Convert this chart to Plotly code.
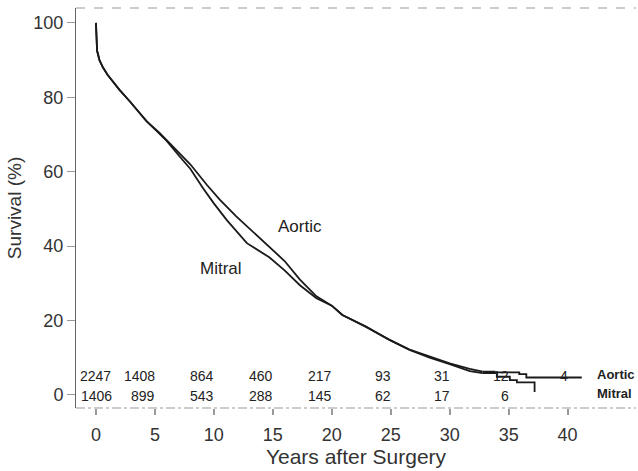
import plotly.graph_objects as go

# ---- data ----
aortic_years = [0, 0.02, 0.1, 0.3, 0.6, 1.0, 1.5, 2.0, 2.9, 4.3, 5.4, 6.0, 7.1, 8.0, 9.4, 10.5,
                11.9, 13.0, 14.7, 16.0, 17.3, 18.7, 20.0, 20.9, 22.9, 24.9, 26.6, 28.3, 30.0,
                31.7, 32.8]
aortic_surv = [100, 96, 92.5, 90, 88, 86, 84, 82, 78.8, 73.5, 70.4, 68.5, 65.0, 62.0, 56.5, 52.5,
               48.0, 44.8, 40.0, 36.0, 31.0, 26.5, 24.0, 21.5, 18.4, 14.8, 12.2, 10.3, 8.5,
               7.0, 6.3]
aortic_tail_years = [32.8, 33.8, 35.9, 36.5, 41.2]
aortic_tail_surv = [6.3, 6.1, 5.6, 4.7, 4.7]

mitral_years = [0, 0.02, 0.1, 0.3, 0.6, 1.0, 1.5, 2.0, 2.9, 4.3, 5.4, 6.0, 7.1, 8.0, 9.1, 10.0,
                11.1, 12.2, 12.8, 14.7, 16.0, 17.3, 18.7, 20.0, 20.9, 22.9, 24.9, 26.6, 28.3,
                30.0, 31.7, 32.8]
mitral_surv = [100, 96, 92.5, 90, 88, 86, 84, 82, 78.8, 73.6, 70.2, 68.3, 64.1, 60.8, 55.5, 51.5,
               47.0, 43.0, 40.8, 37.0, 33.5, 29.5, 26.0, 24.0, 21.5, 18.3, 14.8, 12.1, 10.0,
               8.3, 6.4, 5.9]
mitral_tail_years = [32.8, 34.0, 35.1, 35.7, 37.2, 37.2]
mitral_tail_surv = [5.9, 4.9, 4.0, 3.4, 3.4, 0.8]

risk_years = [0, 5, 10, 15, 20, 25, 30, 35, 40]
aortic_at_risk = [2247, 1408, 864, 460, 217, 93, 31, 12, 4]
mitral_at_risk = [1406, 899, 543, 288, 145, 62, 17, 6]

x_ticks = [0, 5, 10, 15, 20, 25, 30, 35, 40]
y_ticks = [0, 20, 40, 60, 80, 100]

FONT = "Liberation Sans, Arial, sans-serif"
LINE = "#1a1a1a"

fig = go.Figure()
for xs, ys, shape in [(aortic_years, aortic_surv, "linear"),
                      (aortic_tail_years, aortic_tail_surv, "hv"),
                      (mitral_years, mitral_surv, "linear"),
                      (mitral_tail_years, mitral_tail_surv, "hv")]:
    fig.add_trace(go.Scatter(x=xs, y=ys, mode="lines", line=dict(color=LINE, width=1.8, shape=shape),
                             showlegend=False, hoverinfo="skip"))

ann = []
# numbers at risk
for i, (yr, n) in enumerate(zip(risk_years, aortic_at_risk)):
    if i == 0:
        ann.append(dict(x=-1.55, y=5.1, text=str(n), xanchor="left", showarrow=False))
    else:
        ann.append(dict(x=yr, y=5.1, text=str(n), xanchor="right", showarrow=False, xshift=2))
for i, (yr, n) in enumerate(zip(risk_years, mitral_at_risk)):
    if i == 0:
        ann.append(dict(x=-1.4, y=-0.2, text=str(n), xanchor="left", showarrow=False))
    else:
        ann.append(dict(x=yr, y=-0.2, text=str(n), xanchor="right", showarrow=False, xshift=2))
for a in ann:
    a["font"] = dict(family=FONT, size=14, color="#222")

# curve labels
ann.append(dict(x=17.3, y=45.2, text="Aortic", showarrow=False, font=dict(family=FONT, size=17, color="#222")))
ann.append(dict(x=10.6, y=34.1, text="Mitral", showarrow=False, font=dict(family=FONT, size=17, color="#222")))
# row labels
ann.append(dict(x=42.3, y=5.6, text="<b>Aortic</b>", xanchor="left", showarrow=False,
                font=dict(family=FONT, size=13, color="#222")))
ann.append(dict(x=42.3, y=0.3, text="<b>Mitral</b>", xanchor="left", showarrow=False,
                font=dict(family=FONT, size=13, color="#222")))

shapes = [
    dict(type="line", xref="paper", yref="paper", x0=0, x1=1, y0=1, y1=1,
         line=dict(color="#999", width=1, dash="dash")),
    dict(type="line", xref="paper", yref="paper", x0=0, x1=1, y0=0, y1=0,
         line=dict(color="#999", width=1, dash="dashdot")),
]

fig.update_layout(
    width=638, height=471,
    margin=dict(l=76, r=2, t=8, b=63),
    paper_bgcolor="white", plot_bgcolor="white",
    font=dict(family=FONT, color="#333"),
    annotations=ann, shapes=shapes,
    xaxis=dict(range=[-1.69, 45.8], tickvals=x_ticks, ticks="outside", ticklen=6,
               tickcolor="#999", tickwidth=1.5, showgrid=False, zeroline=False, showline=False,
               tickfont=dict(size=18, color="#333"), ticklabelstandoff=4,
               title=dict(text="Years after Surgery", font=dict(size=21, color="#333"), standoff=4)),
    yaxis=dict(range=[-3.5, 104], tickvals=y_ticks, ticks="outside", ticklen=8,
               tickcolor="#999", tickwidth=1, showgrid=False, zeroline=False,
               showline=True, linecolor="#666", linewidth=1,
               tickfont=dict(size=18, color="#333"),
               title=dict(text="Survival (%)", font=dict(size=19, color="#333"), standoff=6)),
)

fig.write_html("out.html")
